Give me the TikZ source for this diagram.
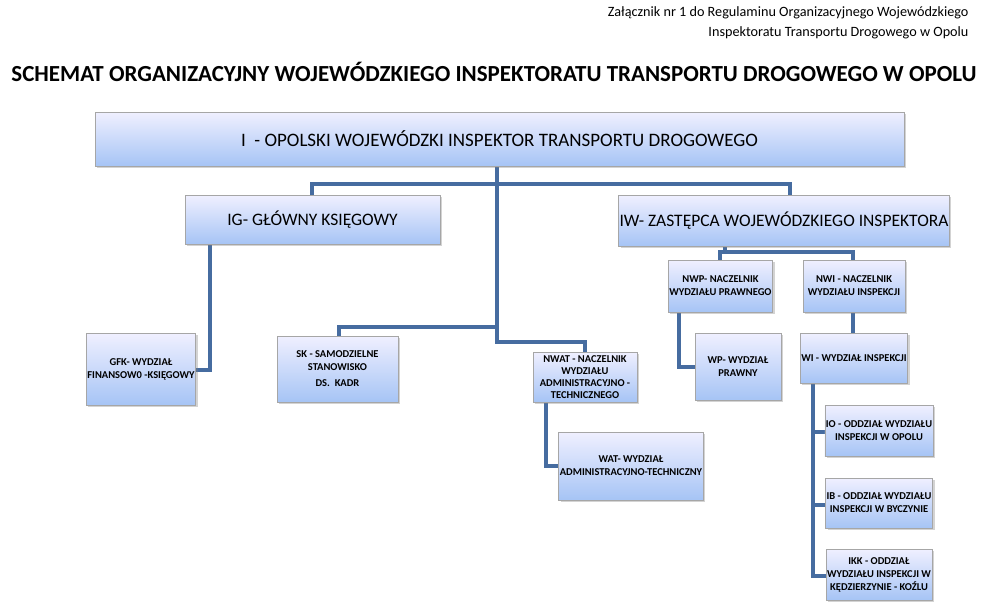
\documentclass[tikz,border=0pt]{standalone}
\usepackage{fontspec}
\setmainfont{Carlito}
\usetikzlibrary{shadows}
\begin{document}
\begin{tikzpicture}[x=1pt,y=-1pt,
 box/.style={draw=gray!70,line width=0.8pt,top color=blue!6!white,bottom color={rgb,255:red,166;green,196;blue,245},
   drop shadow={shadow xshift=2pt,shadow yshift=-2pt,opacity=0.35},align=center,inner sep=1pt},
 sb/.style={box,font=\fontsize{10.5}{13}\selectfont\bfseries},
 ln/.style={draw={rgb,255:red,70;green,108;blue,160},line width=3.5pt}]
\useasboundingbox (0,0) rectangle (985,610);
\node[anchor=east,font=\fontsize{14.2}{16}\selectfont] (h1) at (972,13) {Załącznik nr 1 do Regulaminu Organizacyjnego Wojewódzkiego};
\node[anchor=east,font=\fontsize{14.2}{16}\selectfont] (h2) at (972,33) {Inspektoratu Transportu Drogowego w Opolu};
\node[font=\fontsize{23}{26}\selectfont\bfseries] (title) at (494,72) {SCHEMAT ORGANIZACYJNY WOJEWÓDZKIEGO INSPEKTORATU TRANSPORTU DROGOWEGO W OPOLU};
% connectors first
\draw[ln] (497,166) -- (497,342) -- (585,342) -- (585,352);
\draw[ln] (312,195) -- (312,184) -- (790,184) -- (790,195);
\draw[ln] (339,336) -- (339,327) -- (497,327);
\draw[ln] (210,244) -- (210,370) -- (192,370);
\draw[ln] (725,246) -- (725,252);
\draw[ln] (720,260) -- (720,252) -- (853,252) -- (853,260);
\draw[ln] (679,312) -- (679,367) -- (695,367);
\draw[ln] (853,312) -- (853,333);
\draw[ln] (813,383) -- (813,576) -- (828,576);
\draw[ln] (813,432) -- (828,432);
\draw[ln] (813,505) -- (828,505);
\draw[ln] (546,402) -- (546,466) -- (562,466);
% boxes
\node[box,minimum width=809,minimum height=54,font=\fontsize{19}{22}\selectfont] (top) at (499.5,139) {I\ \ - OPOLSKI WOJEWÓDZKI INSPEKTOR TRANSPORTU DROGOWEGO};
\node[box,minimum width=255,minimum height=49,font=\fontsize{17.5}{20}\selectfont] (ig) at (312.5,219.5) {IG- GŁÓWNY KSIĘGOWY};
\node[box,minimum width=300,minimum height=51,font=\fontsize{17.5}{20}\selectfont] (iw) at (784,220.5) {IW- ZASTĘPCA WOJEWÓDZKIEGO INSPEKTORA};
\node[sb,minimum width=103,minimum height=52] (nwp) at (720.5,286) {NWP- NACZELNIK\\WYDZIAŁU PRAWNEGO};
\node[sb,minimum width=102,minimum height=52] (nwi) at (854,286) {NWI - NACZELNIK\\WYDZIAŁU INSPEKCJI};
\node[sb,minimum width=86,minimum height=67] (wp) at (738,366.5) {WP- WYDZIAŁ\\PRAWNY};
\node[sb,minimum width=102,minimum height=50] (wi) at (854,358) {WI - WYDZIAŁ INSPEKCJI};
\node[sb,minimum width=102,minimum height=51] (io) at (879,430.5) {IO - ODDZIAŁ WYDZIAŁU\\INSPEKCJI W OPOLU};
\node[sb,minimum width=102,minimum height=50] (ib) at (879,503) {IB - ODDZIAŁ WYDZIAŁU\\INSPEKCJI W BYCZYNIE};
\node[sb,minimum width=102,minimum height=51] (ikk) at (879,574.5) {IKK - ODDZIAŁ\\WYDZIAŁU INSPEKCJI W\\KĘDZIERZYNIE - KOŹLU};
\node[sb,minimum width=102,minimum height=72] (gfk) at (141,369) {GFK- WYDZIAŁ\\FINANSOW0 -KSIĘGOWY};
\node[sb,minimum width=121,minimum height=66] (sk) at (337.5,369) {SK - SAMODZIELNE\\STANOWISKO\\[3pt]DS.\ \ KADR};
\node[sb,minimum width=104,minimum height=50,font=\fontsize{10.5}{12}\selectfont\bfseries] (nwat) at (585,377) {NWAT - NACZELNIK\\WYDZIAŁU\\ADMINISTRACYJNO -\\TECHNICZNEGO};
\node[sb,minimum width=138,minimum height=68] (wat) at (631,466) {WAT- WYDZIAŁ\\ADMINISTRACYJNO-TECHNICZNY};
\end{tikzpicture}
\end{document}
